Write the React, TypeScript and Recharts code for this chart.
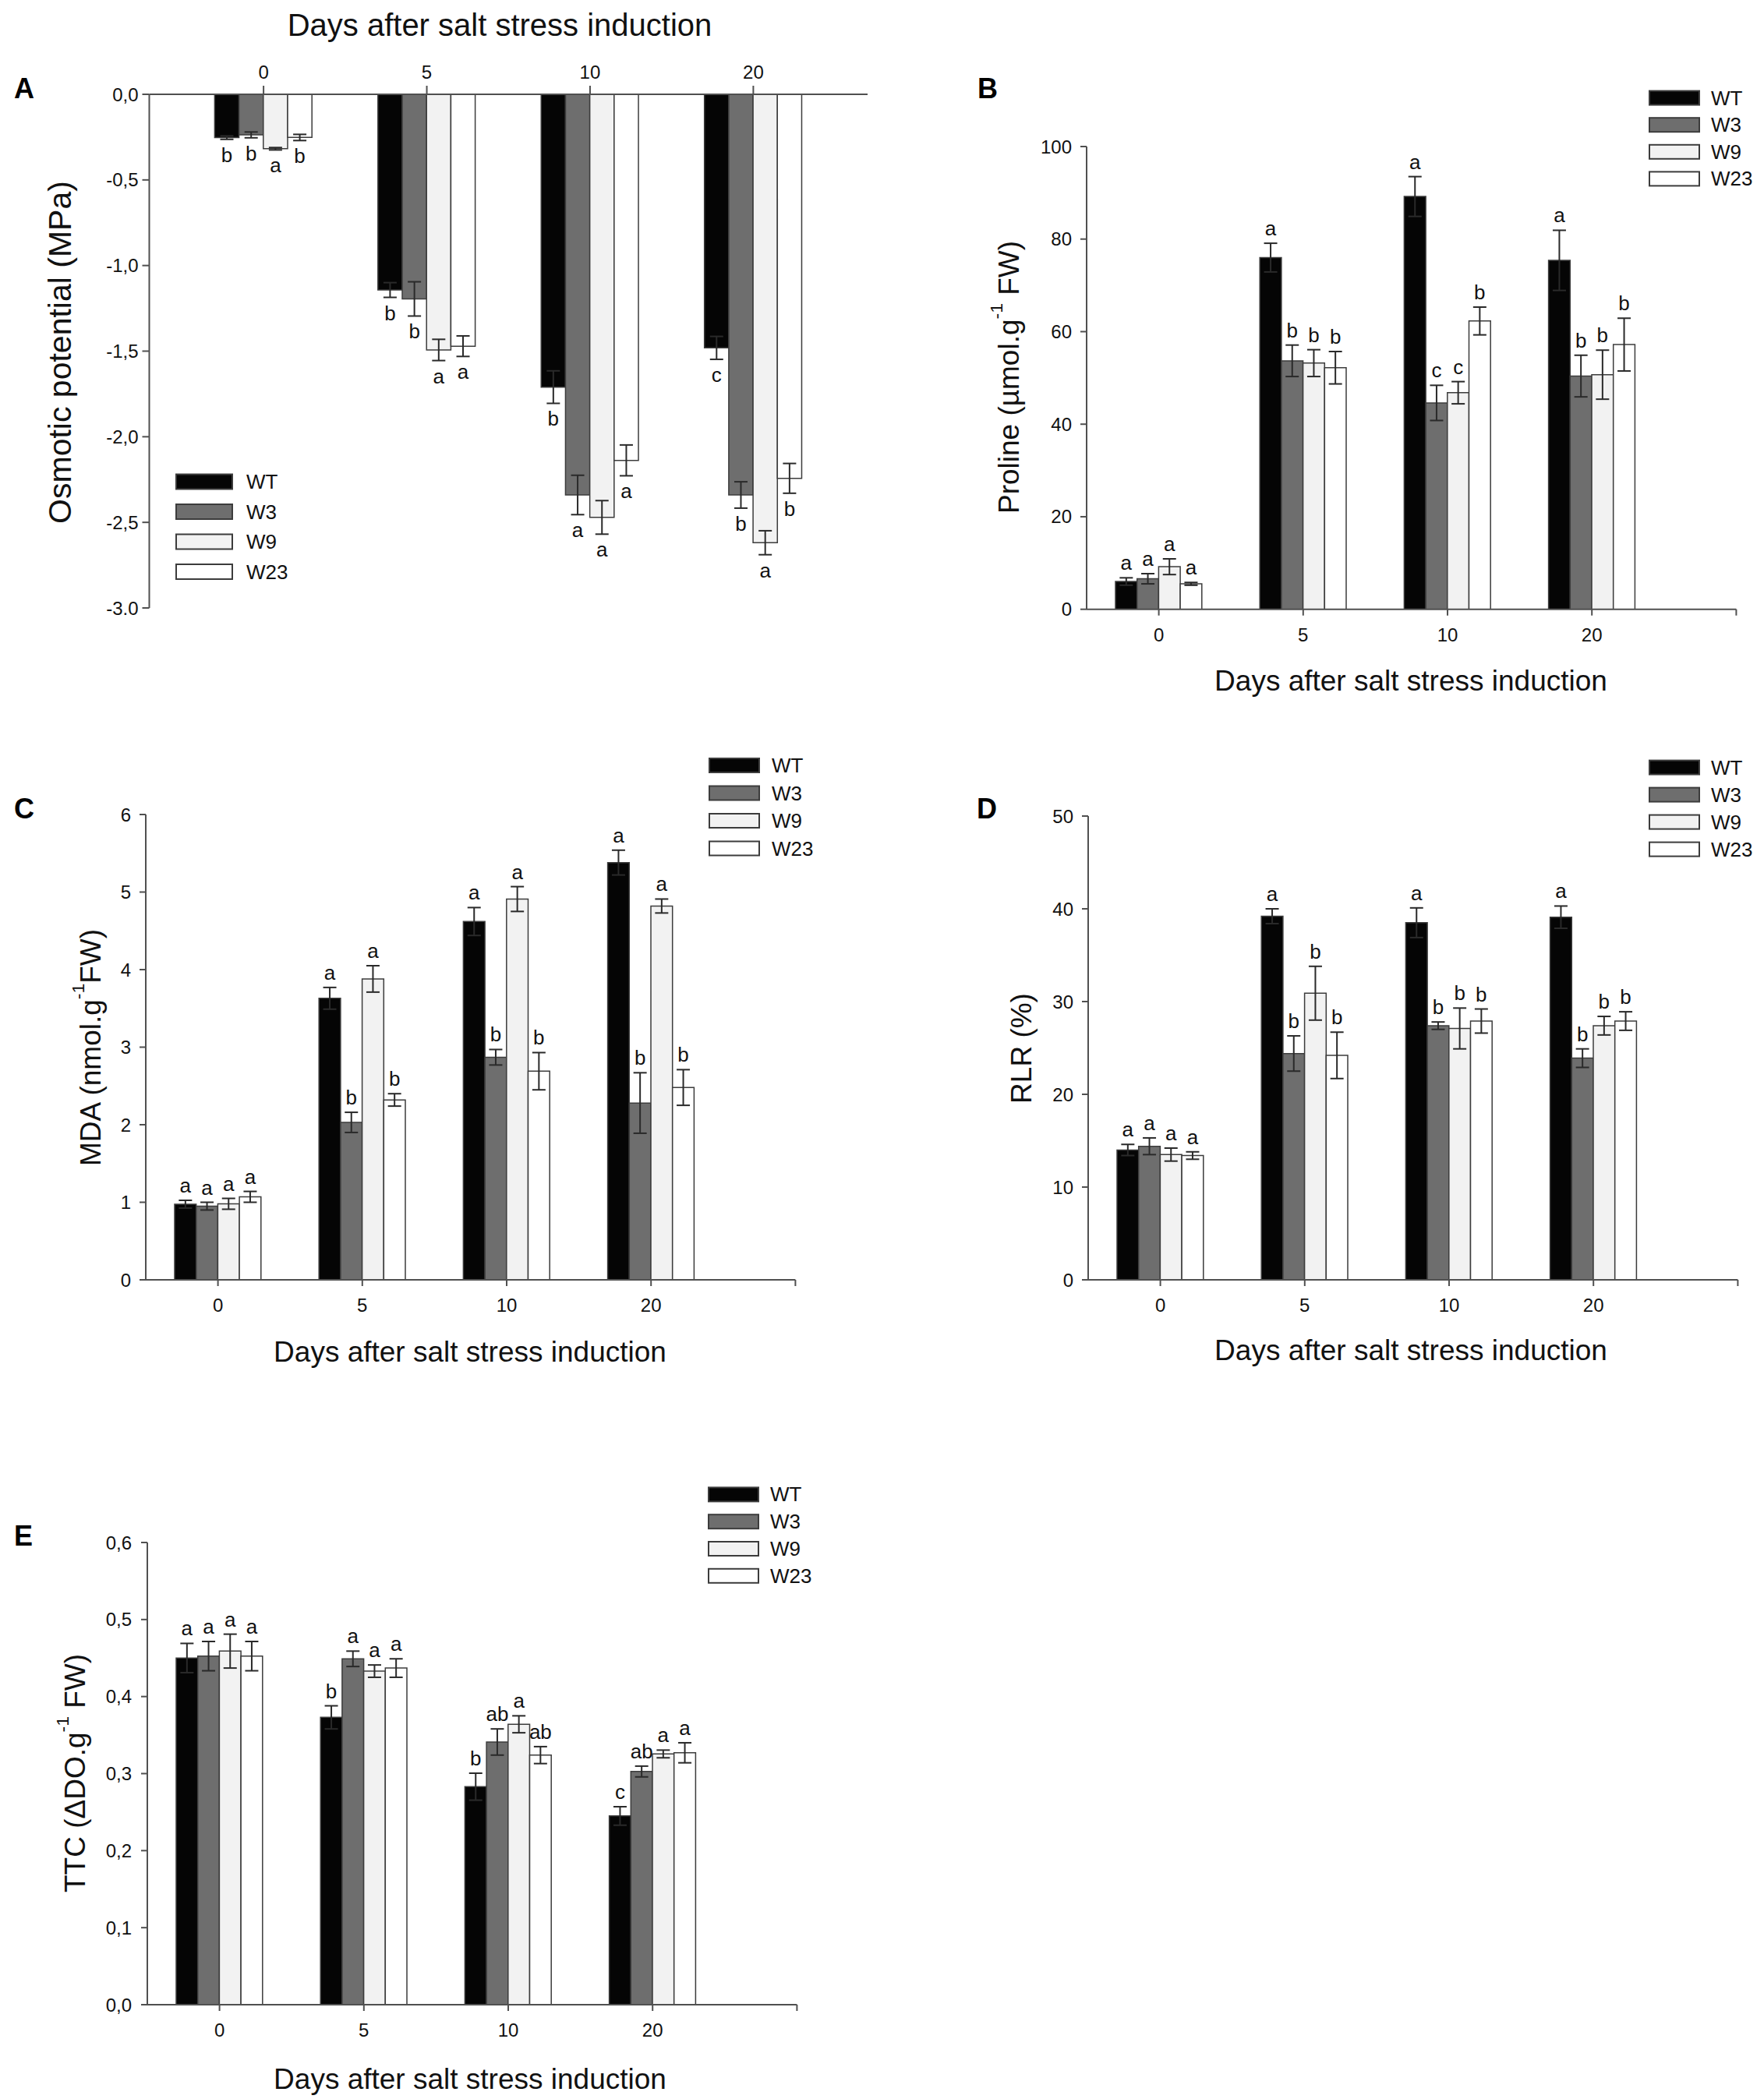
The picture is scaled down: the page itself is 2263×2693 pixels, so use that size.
import React from 'react';
import { BarChart, Bar, XAxis, YAxis, ErrorBar, LabelList } from 'recharts';

const days = ['0', '5', '10', '20'];
const seriesNames = ['WT', 'W3', 'W9', 'W23'];
const seriesFill = ['#050505', '#6e6e6e', '#f2f2f2', '#ffffff'];

// Panel A — osmotic potential (MPa); rows = series WT, W3, W9, W23; cols = days
const osmMean = [
  [-0.253, -1.143, -1.71, -1.481],
  [-0.237, -1.195, -2.34, -2.34],
  [-0.318, -1.493, -2.471, -2.619],
  [-0.252, -1.471, -2.138, -2.243],
];
const osmErr = [
  [0.01, 0.043, 0.095, 0.067],
  [0.017, 0.1, 0.115, 0.077],
  [0.007, 0.062, 0.098, 0.07],
  [0.018, 0.06, 0.09, 0.087],
];
const osmLetters = [
  ['b', 'b', 'b', 'c'],
  ['b', 'b', 'a', 'b'],
  ['a', 'a', 'a', 'a'],
  ['b', 'a', 'a', 'b'],
];
const osmTicks = [0, -0.5, -1, -1.5, -2, -2.5, -3];
const osmTickLabels = ['0,0', '-0,5', '-1,0', '-1,5', '-2,0', '-2,5', '-3.0'];

// Panel B — proline
const proMean = [
  [6.0, 76.0, 89.2, 75.4],
  [6.6, 53.7, 44.6, 50.4],
  [9.2, 53.2, 46.8, 50.7],
  [5.5, 52.2, 62.3, 57.2],
];
const proErr = [
  [0.8, 3.1, 4.3, 6.5],
  [1.1, 3.4, 3.8, 4.5],
  [1.7, 2.9, 2.4, 5.3],
  [0.3, 3.5, 3.0, 5.7],
];
const proLetters = [
  ['a', 'a', 'a', 'a'],
  ['a', 'b', 'c', 'b'],
  ['a', 'b', 'c', 'b'],
  ['a', 'b', 'b', 'b'],
];
const proTicks = [0, 20, 40, 60, 80, 100];
const proTickLabels = ['0', '20', '40', '60', '80', '100'];

// Panel C — MDA
const mdaMean = [
  [0.975, 3.63, 4.62, 5.38],
  [0.95, 2.03, 2.87, 2.28],
  [0.98, 3.88, 4.91, 4.82],
  [1.07, 2.32, 2.69, 2.48],
];
const mdaErr = [
  [0.05, 0.14, 0.18, 0.16],
  [0.05, 0.13, 0.1, 0.39],
  [0.07, 0.17, 0.16, 0.09],
  [0.07, 0.08, 0.24, 0.23],
];
const mdaLetters = [
  ['a', 'a', 'a', 'a'],
  ['a', 'b', 'b', 'b'],
  ['a', 'a', 'a', 'a'],
  ['a', 'b', 'b', 'b'],
];
const mdaTicks = [0, 1, 2, 3, 4, 5, 6];
const mdaTickLabels = ['0', '1', '2', '3', '4', '5', '6'];

// Panel D — RLR
const rlrMean = [
  [14.0, 39.2, 38.5, 39.1],
  [14.4, 24.4, 27.4, 23.9],
  [13.5, 30.9, 27.1, 27.4],
  [13.4, 24.2, 27.9, 27.9],
];
const rlrErr = [
  [0.6, 0.8, 1.6, 1.2],
  [0.9, 1.9, 0.4, 1.0],
  [0.7, 2.9, 2.2, 1.0],
  [0.4, 2.5, 1.3, 1.0],
];
const rlrLetters = [
  ['a', 'a', 'a', 'a'],
  ['a', 'b', 'b', 'b'],
  ['a', 'b', 'b', 'b'],
  ['a', 'b', 'b', 'b'],
];
const rlrTicks = [0, 10, 20, 30, 40, 50];
const rlrTickLabels = ['0', '10', '20', '30', '40', '50'];

// Panel E — TTC
const ttcMean = [
  [0.45, 0.373, 0.283, 0.245],
  [0.4525, 0.449, 0.341, 0.3027],
  [0.459, 0.433, 0.364, 0.3255],
  [0.4525, 0.437, 0.324, 0.327],
];
const ttcErr = [
  [0.019, 0.015, 0.0175, 0.012],
  [0.019, 0.01, 0.017, 0.007],
  [0.022, 0.008, 0.011, 0.005],
  [0.019, 0.012, 0.011, 0.013],
];
const ttcLetters = [
  ['a', 'b', 'b', 'c'],
  ['a', 'a', 'ab', 'ab'],
  ['a', 'a', 'a', 'a'],
  ['a', 'a', 'ab', 'a'],
];
const ttcTicks = [0, 0.1, 0.2, 0.3, 0.4, 0.5, 0.6];
const ttcTickLabels = ['0,0', '0,1', '0,2', '0,3', '0,4', '0,5', '0,6'];

const FONT = "'Liberation Sans', Arial, Helvetica, sans-serif";
const TXT = '#111111';
const AXIS = '#505050';
const BAR_STROKE = '#3c3c3c';
const ERR = '#2a2a2a';

type Margin = { top: number; right: number; bottom: number; left: number };
type Panel = {
  key: string;
  left: number; top: number; width: number; height: number;
  margin: Margin;
  xTop: boolean;
  xDomain: [number, number];
  xTicks: number[];
  xTickSize: number; xTickMargin: number;
  yDomain: [number, number];
  yTicks: number[]; yLabels: string[];
  yTickSize: number; yTickMargin: number;
  means: number[][]; errs: number[][]; letters: string[][];
  barSize: number; below: boolean;
  xTitle: { x: number; y: number; size: number };
  yTitle: { x: number; y: number; size: number; main: string; sup?: string; tail?: string };
};

const panels: Panel[] = [
  {
    key: 'A', left: 0, top: 0, width: 1131, height: 930,
    margin: { top: 81, right: 18, bottom: 150, left: 91.5 },
    xTop: true, xDomain: [-0.7, 3.7], xTicks: [0, 1, 2, 3], xTickSize: 11, xTickMargin: 9,
    yDomain: [-3, 0], yTicks: osmTicks, yLabels: osmTickLabels, yTickSize: 9, yTickMargin: 5,
    means: osmMean, errs: osmErr, letters: osmLetters, barSize: 31.2, below: true,
    xTitle: { x: 641, y: 46, size: 40 },
    yTitle: { x: 77, y: 452, size: 41, main: 'Osmotic potential (MPa)' },
  },
  {
    key: 'B', left: 1131, top: 0, width: 1132, height: 930,
    margin: { top: 188, right: 35.6, bottom: 88.3, left: 163 },
    xTop: false, xDomain: [-0.5, 4], xTicks: [0, 1, 2, 3, 4], xTickSize: 8, xTickMargin: 16,
    yDomain: [0, 100], yTicks: proTicks, yLabels: proTickLabels, yTickSize: 8, yTickMargin: 11,
    means: proMean, errs: proErr, letters: proLetters, barSize: 27.7, below: false,
    xTitle: { x: 1810, y: 886, size: 37 },
    yTitle: { x: 1294, y: 484, size: 37, main: 'Proline (µmol.g', sup: '-1', tail: ' FW)' },
  },
  {
    key: 'C', left: 0, top: 930, width: 1131, height: 930,
    margin: { top: 115, right: 110.6, bottom: 158, left: 87 },
    xTop: false, xDomain: [-0.5, 4], xTicks: [0, 1, 2, 3, 4], xTickSize: 8, xTickMargin: 16,
    yDomain: [0, 6], yTicks: mdaTicks, yLabels: mdaTickLabels, yTickSize: 8, yTickMargin: 11,
    means: mdaMean, errs: mdaErr, letters: mdaLetters, barSize: 27.7, below: false,
    xTitle: { x: 603, y: 1747, size: 37 },
    yTitle: { x: 116, y: 1344, size: 37, main: 'MDA (nmol.g', sup: '-1', tail: 'FW)' },
  },
  {
    key: 'D', left: 1131, top: 930, width: 1132, height: 930,
    margin: { top: 117, right: 33.6, bottom: 158, left: 165 },
    xTop: false, xDomain: [-0.5, 4], xTicks: [0, 1, 2, 3, 4], xTickSize: 8, xTickMargin: 16,
    yDomain: [0, 50], yTicks: rlrTicks, yLabels: rlrTickLabels, yTickSize: 8, yTickMargin: 11,
    means: rlrMean, errs: rlrErr, letters: rlrLetters, barSize: 27.7, below: false,
    xTitle: { x: 1810, y: 1745, size: 37 },
    yTitle: { x: 1310, y: 1345, size: 37, main: 'RLR (%)' },
  },
  {
    key: 'E', left: 0, top: 1860, width: 1131, height: 833,
    margin: { top: 119, right: 108.6, bottom: 61, left: 89 },
    xTop: false, xDomain: [-0.5, 4], xTicks: [0, 1, 2, 3, 4], xTickSize: 8, xTickMargin: 16,
    yDomain: [0, 0.6], yTicks: ttcTicks, yLabels: ttcTickLabels, yTickSize: 8, yTickMargin: 12,
    means: ttcMean, errs: ttcErr, letters: ttcLetters, barSize: 27.7, below: false,
    xTitle: { x: 603, y: 2680, size: 37 },
    yTitle: { x: 96, y: 2275, size: 37, main: 'TTC (ΔDO.g', sup: '-1', tail: ' FW)' },
  },
];

const panelLetters = [
  { t: 'A', x: 18, y: 126 },
  { t: 'B', x: 1254, y: 126 },
  { t: 'C', x: 18, y: 1050 },
  { t: 'D', x: 1253, y: 1050 },
  { t: 'E', x: 18, y: 1983 },
];

const legends = [
  { x: 226, w: 72, h: 19, y0: 618, dy: 38.5, tx: 316 },
  { x: 2116, w: 64, h: 18, y0: 125.6, dy: 34.6, tx: 2195 },
  { x: 910, w: 64, h: 18, y0: 982, dy: 35.5, tx: 990 },
  { x: 2116, w: 64, h: 18, y0: 984.6, dy: 35, tx: 2195 },
  { x: 909, w: 64, h: 18, y0: 1917.4, dy: 34.8, tx: 988 },
];

function makeRows(means: number[][], errs: number[][], letters: string[][]) {
  return days.map((d, i) => {
    const row: Record<string, any> = { idx: i, day: d };
    seriesNames.forEach((_, s) => {
      row['m' + s] = means[s][i];
      row['e' + s] = errs[s][i];
      row['l' + s] = `${letters[s][i]}|${errs[s][i]}|${means[s][i]}`;
    });
    return row;
  });
}

function letterRenderer(below: boolean) {
  return (props: any) => {
    const vb = props.viewBox && props.viewBox.width !== undefined ? props.viewBox : props;
    const x = Number(vb.x);
    const y = Number(vb.y);
    const w = Number(vb.width);
    const h = Number(vb.height);
    const parts = String(props.value).split('|');
    const letter = parts[0];
    const err = Number(parts[1]);
    const mean = Number(parts[2]);
    if (!isFinite(x) || !isFinite(y) || !isFinite(h) || mean === 0) return null;
    const k = Math.abs(h) / Math.abs(mean);
    const cx = x + w / 2;
    if (below) {
      const end = Math.max(y, y + h);
      return (
        <text x={cx} y={end + err * k + 29} textAnchor="middle" fontSize={26} fontFamily={FONT} fill={TXT}>
          {letter}
        </text>
      );
    }
    const end = Math.min(y, y + h);
    return (
      <text x={cx} y={end - err * k - 10} textAnchor="middle" fontSize={26} fontFamily={FONT} fill={TXT}>
        {letter}
      </text>
    );
  };
}

function PanelChart({ p }: { p: Panel }) {
  const rows = makeRows(p.means, p.errs, p.letters);
  const xt = p.xTitle;
  const yt = p.yTitle;
  const xTitleContent = () => (
    <text
      x={xt.x - p.left}
      y={xt.y - p.top}
      textAnchor="middle"
      fontSize={xt.size}
      fontFamily={FONT}
      fill={TXT}
    >
      Days after salt stress induction
    </text>
  );
  const yx = yt.x - p.left;
  const yy = yt.y - p.top;
  const yTitleContent = () => (
    <text
      x={yx}
      y={yy}
      transform={`rotate(-90, ${yx}, ${yy})`}
      textAnchor="middle"
      dominantBaseline="central"
      fontSize={yt.size}
      fontFamily={FONT}
      fill={TXT}
    >
      <tspan>{yt.main}</tspan>
      {yt.sup ? (
        <tspan fontSize={yt.size * 0.62} dy={-yt.size * 0.42}>
          {yt.sup}
        </tspan>
      ) : null}
      {yt.tail ? <tspan dy={yt.sup ? yt.size * 0.42 : 0}>{yt.tail}</tspan> : null}
    </text>
  );
  const findLabel = (v: number) => {
    const i = p.yTicks.findIndex((t) => Math.abs(t - v) < 1e-9);
    return i >= 0 ? p.yLabels[i] : '';
  };
  return (
    <div style={{ position: 'absolute', left: p.left, top: p.top, width: p.width, height: p.height }}>
      <BarChart width={p.width} height={p.height} data={rows} margin={p.margin} barGap={0} barSize={p.barSize}>
        <XAxis
          dataKey="idx"
          type="number"
          domain={p.xDomain}
          ticks={p.xTicks}
          allowDataOverflow
          interval={0}
          orientation={p.xTop ? 'top' : 'bottom'}
          height={p.xTop ? 40 : 60}
          tickFormatter={(v: number) => days[v] ?? ''}
          axisLine={{ stroke: AXIS, strokeWidth: 2 }}
          tickLine={{ stroke: AXIS, strokeWidth: 2 }}
          tickSize={p.xTickSize}
          tickMargin={p.xTickMargin}
          tick={{ fill: TXT, fontSize: 24, fontFamily: FONT }}
          label={{ content: xTitleContent }}
        />
        <YAxis
          type="number"
          domain={p.yDomain}
          ticks={p.yTicks}
          allowDataOverflow
          interval={0}
          width={100}
          tickFormatter={(v: number) => findLabel(v)}
          axisLine={{ stroke: AXIS, strokeWidth: 2 }}
          tickLine={{ stroke: AXIS, strokeWidth: 2 }}
          tickSize={p.yTickSize}
          tickMargin={p.yTickMargin}
          tick={{ fill: TXT, fontSize: 24, fontFamily: FONT }}
          label={{ content: yTitleContent }}
        />
        {seriesNames.map((name, s) => (
          <Bar
            key={name}
            name={name}
            dataKey={'m' + s}
            fill={seriesFill[s]}
            stroke={BAR_STROKE}
            strokeWidth={1.5}
            barSize={p.barSize}
            isAnimationActive={false}
          >
            <ErrorBar dataKey={'e' + s} width={8.5} stroke={ERR} strokeWidth={2} direction="y" />
            <LabelList dataKey={'l' + s} content={letterRenderer(p.below)} />
          </Bar>
        ))}
      </BarChart>
    </div>
  );
}

export default function App() {
  return (
    <div
      style={{
        position: 'absolute',
        left: 0,
        top: 0,
        width: 2263,
        height: 2693,
        background: '#ffffff',
        overflow: 'hidden',
      }}
    >
      {panels.map((p) => (
        <PanelChart key={p.key} p={p} />
      ))}
      <svg
        width={2263}
        height={2693}
        style={{ position: 'absolute', left: 0, top: 0, pointerEvents: 'none' }}
      >
        {panelLetters.map((l) => (
          <text key={l.t} x={l.x} y={l.y} fontSize={36} fontWeight="bold" fontFamily={FONT} fill="#000">
            {l.t}
          </text>
        ))}
        {legends.map((lg, li) => (
          <g key={li}>
            {seriesNames.map((name, s) => {
              const cy = lg.y0 + s * lg.dy;
              return (
                <g key={name}>
                  <rect
                    x={lg.x}
                    y={cy - lg.h / 2}
                    width={lg.w}
                    height={lg.h}
                    fill={seriesFill[s]}
                    stroke={BAR_STROKE}
                    strokeWidth={2}
                  />
                  <text x={lg.tx} y={cy + 9} fontSize={26} fontFamily={FONT} fill={TXT}>
                    {name}
                  </text>
                </g>
              );
            })}
          </g>
        ))}
      </svg>
    </div>
  );
}
